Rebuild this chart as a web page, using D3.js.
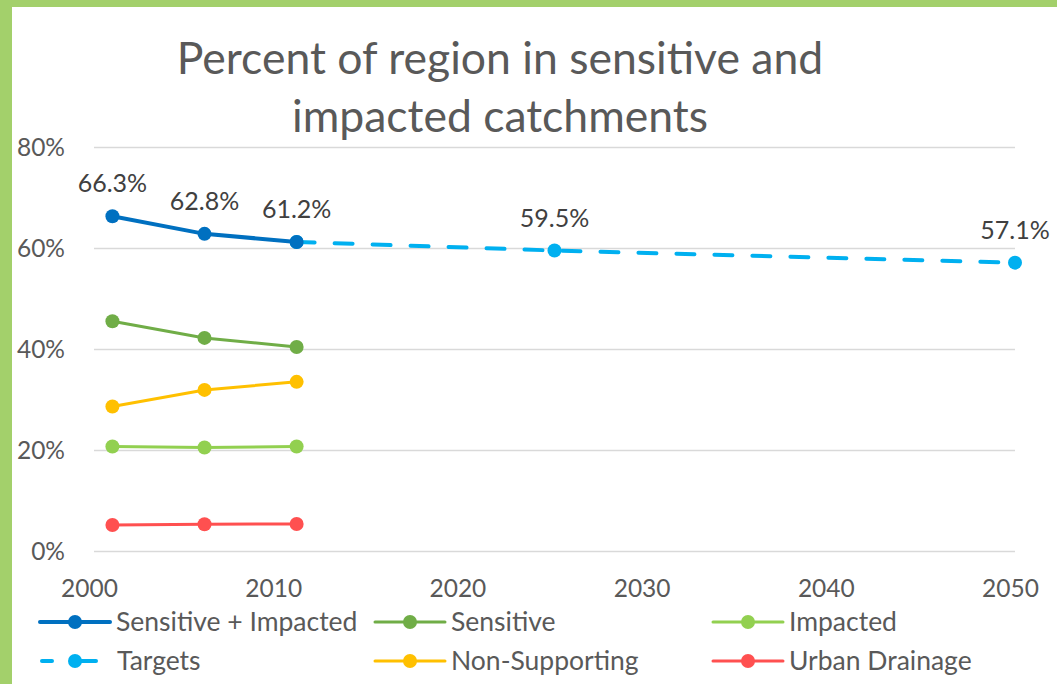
<!DOCTYPE html>
<html>
<head>
<meta charset="utf-8">
<script src="https://cdn.jsdelivr.net/npm/d3@7"></script>
<style>
  html, body { margin: 0; padding: 0; background: #fff; }
  svg { display: block; font-family: Lato, "Open Sans", sans-serif; }
</style>
</head>
<body>
<svg id="chart" width="1057" height="684"></svg>
<script>
// datos
const years = [2001, 2006, 2011];
const sensImpacted = [66.3, 62.8, 61.2];
const sensitive = [45.5, 42.2, 40.4];
const impacted = [20.7, 20.5, 20.7];
const nonSupporting = [28.6, 31.9, 33.5];
const urbanDrainage = [5.15, 5.3, 5.35];
const targetYears = [2011, 2025, 2050];
const targets = [61.2, 59.5, 57.1];
const xTicks = [2000, 2010, 2020, 2030, 2040, 2050];
const yTicks = [0, 20, 40, 60, 80];

const series = [
  { name: "Sensitive + Impacted", x: years, y: sensImpacted, color: "#0070C0", w: 4, dash: null, labels: true },
  { name: "Sensitive", x: years, y: sensitive, color: "#70AD47", w: 3, dash: null },
  { name: "Impacted", x: years, y: impacted, color: "#92D050", w: 3, dash: null },
  { name: "Targets", x: targetYears, y: targets, color: "#00B0F0", w: 4, dash: "18,20", labels: true },
  { name: "Non-Supporting", x: years, y: nonSupporting, color: "#FFC000", w: 3, dash: null },
  { name: "Urban Drainage", x: years, y: urbanDrainage, color: "#FF5050", w: 3, dash: null }
];

const svg = d3.select("#chart");

// marco verde
svg.append("rect").attr("x", 0).attr("y", 0).attr("width", 1057).attr("height", 7).attr("fill", "#A3D06B");
svg.append("rect").attr("x", 0).attr("y", 0).attr("width", 12).attr("height", 684).attr("fill", "#A3D06B");

// escalas
const x = d3.scaleLinear().domain([2000, 2050]).range([94, 1015]);
const y = d3.scaleLinear().domain([0, 80]).range([551, 147]);

// titulo
const title = svg.append("text")
  .attr("x", 500).attr("text-anchor", "middle")
  .style("font-size", "44.5px").style("fill", "#595959");
title.append("tspan").attr("x", 500).attr("y", 74).text("Percent of region in sensitive and");
title.append("tspan").attr("x", 500).attr("y", 132).text("impacted catchments");

// eje Y (grid)
const yAxis = svg.append("g")
  .attr("transform", `translate(${x(2000)},0)`)
  .call(d3.axisLeft(y).tickValues(yTicks).tickSize(-(x(2050) - x(2000))).tickFormat(d => d + "%"));
yAxis.select(".domain").remove();
yAxis.selectAll(".tick line").attr("stroke", "#D9D9D9").attr("stroke-width", 1.5);
yAxis.selectAll(".tick text")
  .attr("x", -29).attr("dy", "0.35em")
  .style("font-size", "24.5px").style("fill", "#595959").style("font-family", "Lato, sans-serif");

// eje X
const xAxis = svg.append("g")
  .attr("transform", `translate(0,${y(0)})`)
  .call(d3.axisBottom(x).tickValues(xTicks).tickSize(0).tickFormat(d3.format("d")));
xAxis.select(".domain").remove();
xAxis.selectAll(".tick text")
  .attr("y", 46).attr("dx", -5).attr("dy", 0)
  .style("font-size", "24.5px").style("fill", "#595959").style("font-family", "Lato, sans-serif");

// lineas
const line = d3.line().x(d => x(d[0])).y(d => y(d[1]));
const drawOrder = ["Targets", "Sensitive", "Impacted", "Non-Supporting", "Urban Drainage", "Sensitive + Impacted"];
drawOrder.forEach(n => {
  const s = series.find(d => d.name === n);
  const pts = s.x.map((v, i) => [v, s.y[i]]);
  svg.append("path")
    .datum(pts)
    .attr("d", line)
    .attr("fill", "none")
    .attr("stroke", s.color)
    .attr("stroke-width", s.w)
    .attr("stroke-linecap", "round")
    .attr("stroke-dasharray", s.dash);
  svg.append("g").selectAll("circle")
    .data(pts)
    .enter().append("circle")
      .attr("cx", d => x(d[0]))
      .attr("cy", d => y(d[1]))
      .attr("r", 7)
      .attr("fill", s.color);
});

// etiquetas de datos
series.filter(s => s.labels).forEach(s => {
  const pts = s.x.map((v, i) => [v, s.y[i]]);
  const lp = s.name === "Targets" ? pts.slice(1) : pts;
  svg.append("g").selectAll("text")
    .data(lp)
    .enter().append("text")
      .attr("x", d => x(d[0]))
      .attr("y", d => y(d[1]) - 24)
      .attr("text-anchor", "middle")
      .style("font-size", "25px")
      .style("fill", "#404040")
      .text(d => d[1].toFixed(1) + "%");
});

// leyenda
const legCols = [40, 375, 713];
const legRows = [622, 661];
const legend = svg.append("g");
series.forEach((s, i) => {
  const lx = legCols[i % 3], ly = legRows[Math.floor(i / 3)];
  const g = legend.append("g").attr("transform", `translate(${lx},${ly})`);
  if (s.dash) {
    g.append("line").attr("x1", 2).attr("x2", 12).attr("y1", 0).attr("y2", 0)
      .attr("stroke", s.color).attr("stroke-width", s.w).attr("stroke-linecap", "round");
    g.append("line").attr("x1", 35).attr("x2", 56).attr("y1", 0).attr("y2", 0)
      .attr("stroke", s.color).attr("stroke-width", s.w).attr("stroke-linecap", "round");
  } else {
    g.append("line").attr("x1", 0).attr("x2", 70).attr("y1", 0).attr("y2", 0)
      .attr("stroke", s.color).attr("stroke-width", s.w).attr("stroke-linecap", "round");
  }
  g.append("circle").attr("cx", 35).attr("cy", 0).attr("r", 7).attr("fill", s.color);
  g.append("text")
    .attr("x", s.dash ? 77 : 76).attr("y", 0).attr("dy", "0.35em")
    .style("font-size", "26.5px").style("fill", "#595959")
    .text(s.name);
});
</script>
</body>
</html>
